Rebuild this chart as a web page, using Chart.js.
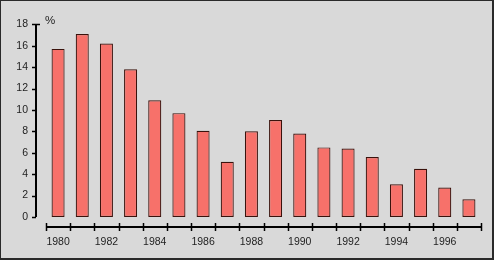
<!DOCTYPE html>
<html>
<head>
<meta charset="utf-8">
<script src="https://cdn.jsdelivr.net/npm/chart.js@4"></script>
<style>
  body { margin: 0; }
  #wrap { position: relative; width: 494px; height: 260px; background: #d9d9d9; }
  #wrap canvas { position: absolute; left: 0; top: 0; }
  #frame {
    position: absolute; left: 0; top: 0; width: 494px; height: 260px;
    box-sizing: border-box; pointer-events: none;
    border-top: 1px solid #2a2a2a; border-left: 1px solid #2a2a2a;
    border-right: 2px solid #2a2a2a; border-bottom: 2px solid #2a2a2a;
  }
</style>
</head>
<body>
<div id="wrap">
  <canvas id="chart" width="494" height="260"></canvas>
  <div id="frame"></div>
</div>
<script>
const years = ['1980', '1981', '1982', '1983', '1984', '1985', '1986', '1987', '1988',
    '1989', '1990', '1991', '1992', '1993', '1994', '1995', '1996', '1997'];
const rates = [15.7, 17.1, 16.2, 13.8, 10.9, 9.7, 8.05, 5.15, 8.0,
    9.05, 7.8, 6.5, 6.4, 5.6, 3.05, 4.5, 2.75, 1.65];
const yTicks = [0, 2, 4, 6, 8, 10, 12, 14, 16, 18];
const unitLabel = '%';

const inkColor = '#1e1e1e';
const fontSpec = { family: "'Liberation Sans', Arial, sans-serif", size: 10.5 };

// axes sit apart from the bars, drawn here from the scales
const detachedAxes = {
    id: 'detachedAxes',
    afterDraw(chart) {
        const ctx = chart.ctx;
        const x = chart.scales.x;
        const y = chart.scales.y;
        const area = chart.chartArea;
        const axisX = area.left - 10;
        const yTop = y.getPixelForValue(yTicks[yTicks.length - 1]);
        const yBottom = y.getPixelForValue(0);
        const axisY = yBottom + 10;

        ctx.save();
        ctx.strokeStyle = '#000';
        ctx.lineWidth = 2;
        ctx.beginPath();
        ctx.moveTo(axisX, yTop);
        ctx.lineTo(axisX, yBottom);
        ctx.stroke();

        ctx.lineWidth = 1.5;
        yTicks.forEach((v, i) => {
            const py = Math.round(y.getPixelForValue(v)) + 0.5;
            const last = i === yTicks.length - 1;
            ctx.beginPath();
            ctx.moveTo(axisX - 4, py);
            ctx.lineTo(last ? axisX + 4 : axisX, py);
            ctx.stroke();
        });

        const step = x.getPixelForValue(1) - x.getPixelForValue(0);
        const first = x.getPixelForValue(0) - step / 2;
        const lastEdge = first + step * years.length;
        ctx.lineWidth = 2;
        ctx.beginPath();
        ctx.moveTo(first, axisY);
        ctx.lineTo(lastEdge, axisY);
        ctx.stroke();

        ctx.lineWidth = 1.5;
        for (let i = 0; i <= years.length; i++) {
            const px = Math.round(first + step * i) + 0.5;
            ctx.beginPath();
            ctx.moveTo(px, axisY - 4);
            ctx.lineTo(px, axisY + 4);
            ctx.stroke();
        }

        ctx.fillStyle = inkColor;
        ctx.font = '11.5px ' + fontSpec.family;
        ctx.textAlign = 'left';
        ctx.textBaseline = 'middle';
        ctx.fillText(unitLabel, axisX + 9, yTop - 3);
        ctx.restore();
    }
};

new Chart(document.getElementById('chart'), {
    type: 'bar',
    data: {
        labels: years,
        datasets: [{
            data: rates,
            backgroundColor: '#f7716a',
            borderColor: '#3a120c',
            borderWidth: 1.2,
            borderSkipped: false,
            categoryPercentage: 1,
            barPercentage: 0.54
        }]
    },
    options: {
        responsive: false,
        animation: false,
        layout: { padding: { top: 24, right: 13, left: 0, bottom: 0 } },
        plugins: { legend: { display: false }, tooltip: { enabled: false } },
        scales: {
            x: {
                afterFit: s => { s.height = 43; },
                grid: { display: false, drawTicks: false },
                border: { display: false },
                ticks: {
                    autoSkip: false,
                    maxRotation: 0,
                    padding: 19,
                    color: inkColor,
                    font: fontSpec,
                    callback: (v, i) => (i % 2 === 0 ? years[i] : '')
                }
            },
            y: {
                min: 0,
                max: 18,
                afterFit: s => { s.width = 46; },
                grid: { display: false, drawTicks: false },
                border: { display: false },
                ticks: {
                    stepSize: 2,
                    padding: 18,
                    color: inkColor,
                    font: fontSpec
                }
            }
        }
    },
    plugins: [detachedAxes]
});
</script>
</body>
</html>
